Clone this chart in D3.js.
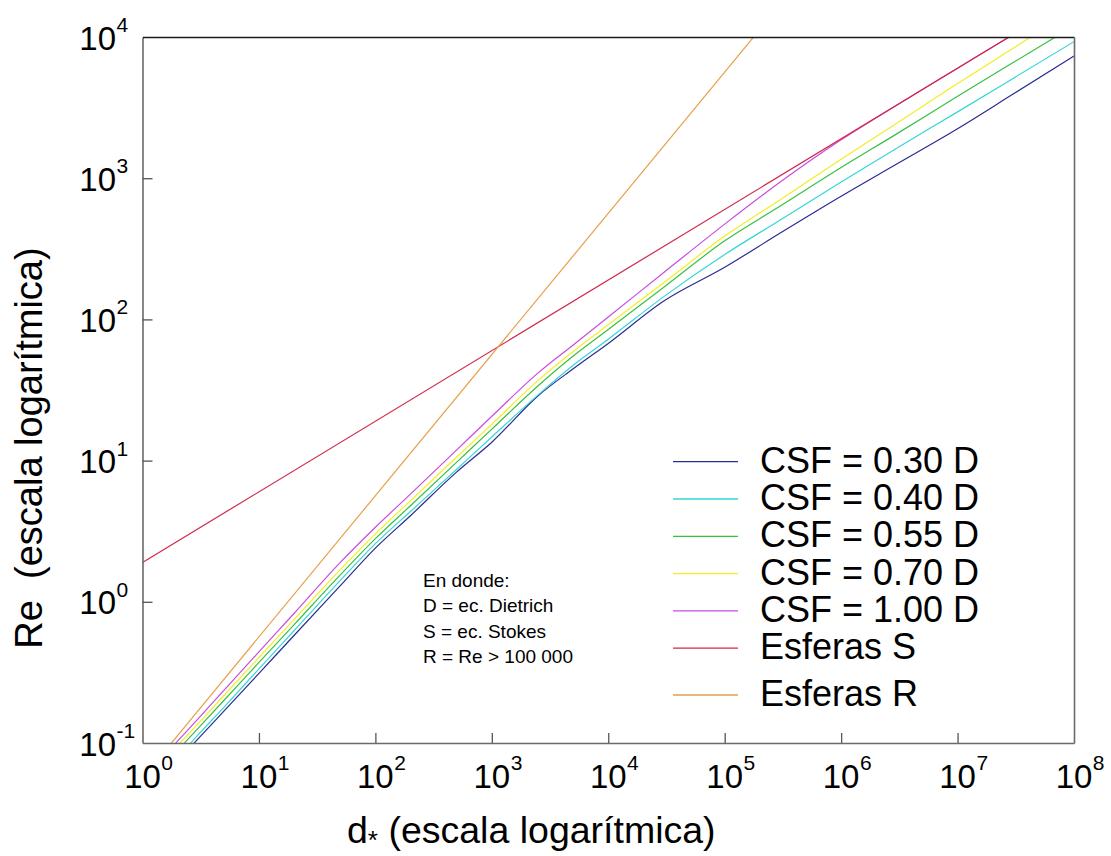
<!DOCTYPE html>
<html>
<head>
<meta charset="utf-8">
<script src="https://cdn.jsdelivr.net/npm/d3@7/dist/d3.min.js"></script>
<style>
  html, body { margin: 0; padding: 0; background: #ffffff; }
  svg { display: block; font-family: "Liberation Sans", Arial, sans-serif; }
</style>
</head>
<body>
<svg id="chart" width="1111" height="856"></svg>
<script>
// Dimensionless diameter d* (shared sampling grid of the CSF curves)
const dStar = [1.5, 2, 3, 5, 10, 20, 50, 100, 200, 500, 1000, 2500, 5000, 1e4, 3e4, 1e5, 3e5, 1e6, 3e6, 1e7, 3e7, 1e8];

// Reynolds number for each Corey shape factor (Dietrich equation)
const reCSF030 = [0.0577, 0.0745, 0.107, 0.168, 0.311, 0.577, 1.30, 2.40, 4.07, 8.32, 13.5, 28.8, 44.7, 67.6, 135, 234, 409, 745, 1260, 2240, 3940, 7330];
const reCSF040 = [0.0608, 0.0785, 0.114, 0.179, 0.335, 0.624, 1.42, 2.58, 4.36, 8.69, 14.7, 29.2, 47.3, 72.4, 145, 288, 506, 940, 1630, 2950, 5090, 9270];
const reCSF055 = [0.0687, 0.0887, 0.127, 0.200, 0.372, 0.687, 1.55, 2.80, 4.79, 9.75, 16.7, 33.9, 55.0, 84.7, 169, 360, 635, 1190, 2060, 3800, 6590, 12000];
const reCSF070 = [0.0741, 0.0957, 0.137, 0.217, 0.403, 0.748, 1.69, 3.03, 5.19, 10.6, 18.1, 37.0, 59.3, 91.6, 182, 389, 705, 1360, 2450, 4680, 8320, 15800];
const reCSF100 = [0.0794, 0.103, 0.148, 0.236, 0.442, 0.826, 1.90, 3.37, 5.79, 11.9, 20.6, 41.8, 65.9, 104, 215, 473, 940, 1870, 3290, 6010, 10400, 19000];

// Spheres: straight lines on log-log axes
const dEsferasS = [1, 1e8];
const reEsferasS = [1.9, 19000];
const dEsferasR = [1, 1e6];
const reEsferasR = [0.0564, 56400];

const seriesLabels = ["CSF = 0.30 D", "CSF = 0.40 D", "CSF = 0.55 D", "CSF = 0.70 D", "CSF = 1.00 D", "Esferas S", "Esferas R"];
const seriesColors = ["#2b2b92", "#35d6d6", "#38c040", "#f2ee22", "#c74ce0", "#d0284a", "#e6a04a"];

const xTickExponents = [0, 1, 2, 3, 4, 5, 6, 7, 8];
const yTickExponents = [-1, 0, 1, 2, 3, 4];
const noteLines = ["En donde:", "D = ec. Dietrich", "S = ec. Stokes", "R = Re > 100 000"];

const series = [
  { d: dStar, re: reCSF030 },
  { d: dStar, re: reCSF040 },
  { d: dStar, re: reCSF055 },
  { d: dStar, re: reCSF070 },
  { d: dStar, re: reCSF100 },
  { d: dEsferasS, re: reEsferasS },
  { d: dEsferasR, re: reEsferasR }
];

const svg = d3.select("#chart");
const W = 1111, H = 856;
const plot = { left: 142.5, right: 1074, top: 37, bottom: 743 };

svg.append("rect").attr("width", W).attr("height", H).attr("fill", "#ffffff");

const x = d3.scaleLog().domain([1, 1e8]).range([plot.left, plot.right]);
const y = d3.scaleLog().domain([0.1, 1e4]).range([plot.bottom, plot.top]);

svg.append("defs").append("clipPath").attr("id", "plotClip")
  .append("rect")
  .attr("x", plot.left).attr("y", plot.top)
  .attr("width", plot.right - plot.left).attr("height", plot.bottom - plot.top);

// Curves
const line = d3.line()
  .x(p => x(p[0]))
  .y(p => y(p[1]))
  .curve(d3.curveMonotoneX);

const curves = svg.append("g").attr("clip-path", "url(#plotClip)");
series.forEach((s, i) => {
  curves.append("path")
    .datum(s.d.map((v, k) => [v, s.re[k]]))
    .attr("fill", "none")
    .attr("stroke", seriesColors[i])
    .attr("stroke-width", 1.2)
    .attr("d", line);
});

// Frame and inward ticks
const xTicks = xTickExponents.map(e => Math.pow(10, e));
const yTicks = yTickExponents.map(e => Math.pow(10, e));

const gx = svg.append("g").attr("transform", `translate(0,${plot.bottom})`)
  .call(d3.axisBottom(x).tickValues(xTicks.slice(1, -1)).tickSizeInner(-10).tickSizeOuter(0).tickFormat(""));
const gy = svg.append("g").attr("transform", `translate(${plot.left},0)`)
  .call(d3.axisLeft(y).tickValues(yTicks.slice(1, -1)).tickSizeInner(-10).tickSizeOuter(0).tickFormat(""));
const gt = svg.append("g").attr("transform", `translate(0,${plot.top})`)
  .call(d3.axisTop(x).tickValues([]).tickSizeOuter(0));
const gr = svg.append("g").attr("transform", `translate(${plot.right},0)`)
  .call(d3.axisRight(y).tickValues([]).tickSizeOuter(0));

[gx, gy, gr].forEach(g => {
  g.select(".domain").attr("stroke", "#6a6a6a").attr("stroke-width", 1.6);
  g.selectAll(".tick line").attr("stroke", "#555").attr("stroke-width", 1.3);
});
gt.select(".domain").attr("stroke", "#1a1a1a").attr("stroke-width", 1.4);

// Power-of-ten tick labels
const baseSize = 33, expSize = 21;
xTickExponents.forEach(e => {
  const cx = x(Math.pow(10, e));
  const t = svg.append("text")
    .attr("x", cx).attr("y", 788)
    .attr("text-anchor", "middle")
    .attr("font-size", baseSize).attr("fill", "#000")
    .text("10");
  const w = t.node().getComputedTextLength();
  svg.append("text")
    .attr("x", cx + w / 2 + 0.5).attr("y", 770)
    .attr("font-size", expSize).attr("fill", "#000")
    .text(String(e));
});
yTickExponents.forEach(e => {
  const cy = y(Math.pow(10, e));
  svg.append("text")
    .attr("x", 116).attr("y", cy + 12.5)
    .attr("text-anchor", "end")
    .attr("font-size", baseSize).attr("fill", "#000")
    .text("10");
  svg.append("text")
    .attr("x", 116.5).attr("y", cy - 5)
    .attr("font-size", expSize).attr("fill", "#000")
    .text(e < 0 ? "-" + Math.abs(e) : String(e));
});

// Axis titles
const xTitle = svg.append("text")
  .attr("x", 347).attr("y", 843)
  .attr("font-size", 37.5).attr("fill", "#000");
xTitle.append("tspan").text("d");
xTitle.append("tspan").attr("font-size", 26).attr("dy", 6).text("*");
xTitle.append("tspan").attr("dy", -6).text("\u00a0(escala logarítmica)");

svg.append("text")
  .attr("transform", "translate(42,448) rotate(-90)")
  .attr("text-anchor", "middle")
  .attr("font-size", 38).attr("fill", "#000")
  .text("Re\u00a0 (escala logarítmica)");

// Legend
const legend = svg.append("g");
seriesLabels.forEach((label, i) => {
  const ly = i < 6 ? 461.7 + i * 37.3 : 695;
  legend.append("line")
    .attr("x1", 673).attr("x2", 738)
    .attr("y1", ly).attr("y2", ly)
    .attr("stroke", seriesColors[i]).attr("stroke-width", 1.3);
  legend.append("text")
    .attr("x", 760).attr("y", ly + 11)
    .attr("font-size", 36).attr("fill", "#000")
    .text(label);
});

// Note
noteLines.forEach((t, i) => {
  svg.append("text")
    .attr("x", 423).attr("y", 586.7 + i * 25.5)
    .attr("font-size", 19).attr("fill", "#000")
    .text(t);
});
</script>
</body>
</html>
